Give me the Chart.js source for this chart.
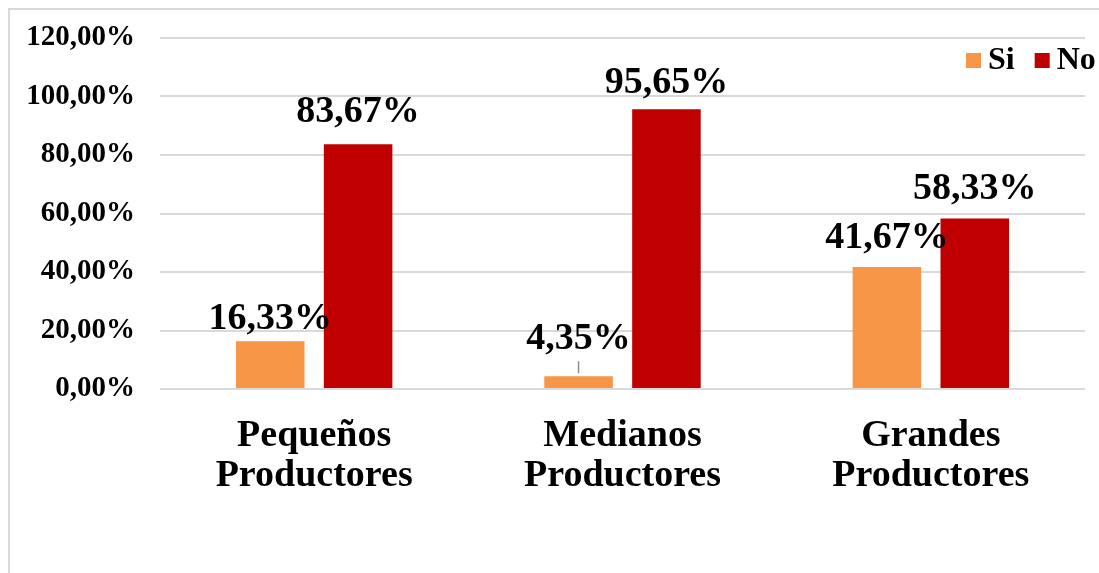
<!DOCTYPE html>
<html>
<head>
<meta charset="utf-8">
<script src="https://cdn.jsdelivr.net/npm/chart.js@4"></script>
<style>
  html, body { margin: 0; padding: 0; background: #fff; }
  #wrap { width: 1099px; height: 573px; position: relative; }
</style>
</head>
<body>
<div id="wrap"><canvas id="chart"></canvas></div>
<script>
    "use strict";

    // Data
    var categories = [["Pequeños", "Productores"], ["Medianos", "Productores"], ["Grandes", "Productores"]];
    var seriesNames = ["Si", "No"];
    var siValues = [16.33, 4.35, 41.67];
    var noValues = [83.67, 95.65, 58.33];
    var yTicks = [0, 20, 40, 60, 80, 100, 120];

    var FONT = "'Liberation Serif', 'Times New Roman', serif";
    var fmt = function (v) { return v.toFixed(2).replace('.', ','); };

    // Frame of the chart box (left + top lines)
    var framePlugin = {
        id: 'frame',
        beforeDraw: function (chart) {
            var ctx = chart.ctx;
            ctx.save();
            ctx.strokeStyle = '#d9d9d9';
            ctx.lineWidth = 2;
            ctx.beginPath();
            ctx.moveTo(9, 573);
            ctx.lineTo(9, 9);
            ctx.lineTo(1099, 9);
            ctx.stroke();
            ctx.restore();
        }
    };

    // Value labels above the bars
    var labelGap = [[12, 27, 19], [22, 16, 19]];
    var valueLabels = {
        id: 'valueLabels',
        afterDatasetsDraw: function (chart) {
            var ctx = chart.ctx;
            ctx.save();
            ctx.font = 'bold 38px ' + FONT;
            ctx.fillStyle = '#000';
            ctx.textAlign = 'center';
            ctx.textBaseline = 'alphabetic';
            chart.data.datasets.forEach(function (ds, di) {
                chart.getDatasetMeta(di).data.forEach(function (bar, i) {
                    var gap = labelGap[di][i];
                    ctx.fillText(fmt(ds.data[i]) + '%', bar.x, bar.y - gap);
                    if (gap > 24) {
                        // leader line
                        ctx.strokeStyle = '#8c8c8c';
                        ctx.lineWidth = 1.5;
                        ctx.beginPath();
                        ctx.moveTo(bar.x, bar.y - gap + 12);
                        ctx.lineTo(bar.x, bar.y - 3);
                        ctx.stroke();
                    }
                });
            });
            ctx.restore();
        }
    };

    // Legend inside the plot, top right
    var legendBox = {
        id: 'legendBox',
        afterDraw: function (chart) {
            var ctx = chart.ctx;
            ctx.save();
            ctx.font = 'bold 32px ' + FONT;
            ctx.textBaseline = 'middle';
            ctx.textAlign = 'left';
            var x = 966, y = 61;
            chart.data.datasets.forEach(function (ds) {
                ctx.fillStyle = ds.backgroundColor;
                ctx.fillRect(x, y - 8, 15, 15);
                ctx.fillStyle = '#000';
                ctx.fillText(ds.label, x + 22, y);
                x += 22 + ctx.measureText(ds.label).width + 20;
            });
            ctx.restore();
        }
    };

    var ctx = document.getElementById('chart').getContext('2d');
    new Chart(ctx, {
        type: 'bar',
        data: {
            labels: categories,
            datasets: [
                { label: seriesNames[0], data: siValues, backgroundColor: '#F79646' },
                { label: seriesNames[1], data: noValues, backgroundColor: '#C00000' }
            ]
        },
        options: {
            responsive: true,
            maintainAspectRatio: false,
            animation: false,
            devicePixelRatio: 1,
            categoryPercentage: 0.57,
            barPercentage: 0.78,
            layout: { padding: { top: 38, right: 14, left: 0, bottom: 0 } },
            plugins: {
                legend: { display: false },
                tooltip: { enabled: false }
            },
            scales: {
                x: {
                    grid: { display: false, drawTicks: false },
                    border: { display: false },
                    ticks: {
                        color: '#000',
                        font: { family: FONT, size: 38, weight: 'bold', lineHeight: 1.05 },
                        padding: 27,
                        maxRotation: 0
                    },
                    afterFit: function (scale) {
                        scale.height = 184;
                        scale.paddingLeft = 0;
                        scale.paddingRight = 0;
                    }
                },
                y: {
                    min: 0,
                    max: 120,
                    afterBuildTicks: function (scale) {
                        scale.ticks = yTicks.map(function (v) { return { value: v }; });
                    },
                    grid: { color: '#d9d9d9', lineWidth: 2, drawTicks: false },
                    border: { display: false },
                    ticks: {
                        color: '#000',
                        font: { family: FONT, size: 29, weight: 'bold' },
                        padding: 25,
                        callback: function (v) { return fmt(v) + '%'; }
                    },
                    afterFit: function (scale) {
                        scale.width = 160;
                        scale.paddingTop = 0;
                        scale.paddingBottom = 0;
                    }
                }
            }
        },
        plugins: [framePlugin, valueLabels, legendBox]
    });
</script>
</body>
</html>
